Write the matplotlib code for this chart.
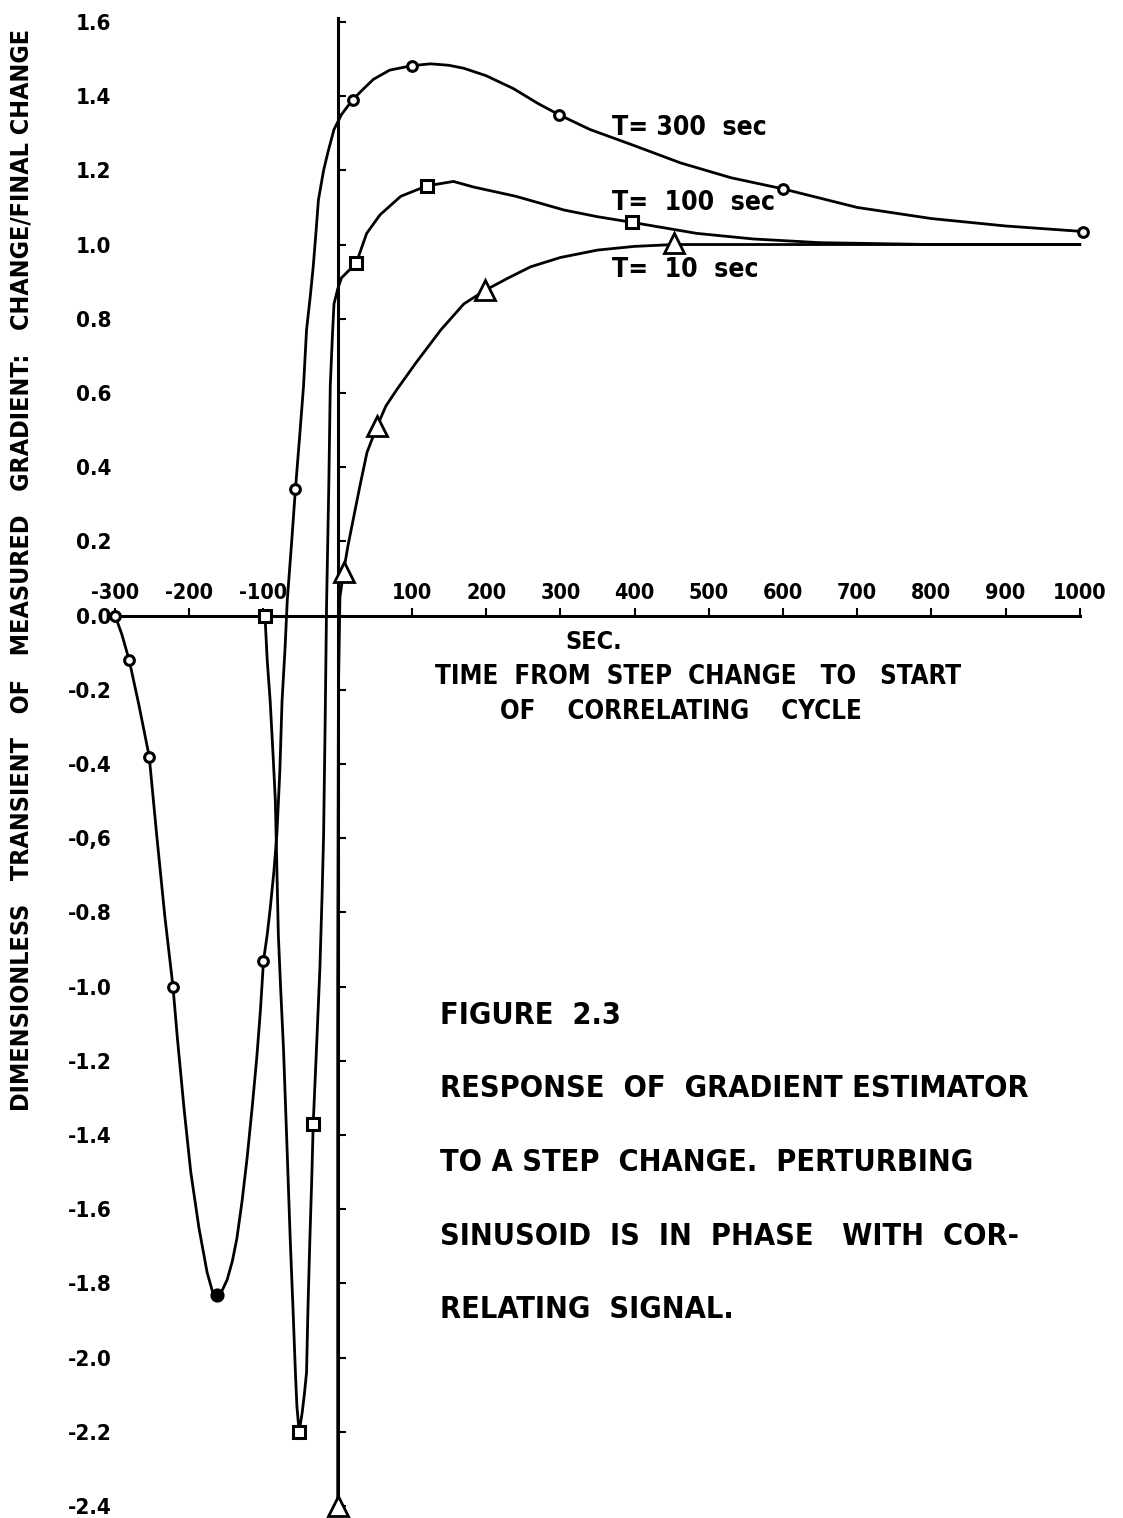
import matplotlib
matplotlib.use("Agg")
import matplotlib.pyplot as plt
from matplotlib.ticker import FixedLocator, FixedFormatter

plt.rcParams['font.family'] = ['DejaVu Sans']
plt.rcParams['font.stretch'] = 'condensed'
plt.rcParams['font.weight'] = 'bold'
plt.rcParams['axes.unicode_minus'] = False

# T = 300 sec: traced curve and plotted points (circles)
t300_curve_x = [-300, -291, -281, -268, -254, -244, -233, -222, -216, -207, -198, -187, -176, -169, -163,
                -156, -149, -142, -136, -129, -122, -115, -109, -104, -100, -95, -91, -86, -82, -78,
                -75, -71, -68, -62, -57, -51, -46, -42, -37, -33, -29, -26, -19, -13, -5, 5, 20, 35,
                48, 70, 100, 125, 150, 170, 200, 237, 270, 298, 340, 395, 462, 530, 600, 650, 700,
                800, 900, 1005]
t300_curve_y = [0.0, -0.05, -0.12, -0.24, -0.38, -0.59, -0.81, -1.0, -1.14, -1.33, -1.50, -1.65, -1.77, -1.82,
                -1.835, -1.82, -1.79, -1.74, -1.68, -1.58, -1.46, -1.32, -1.19, -1.06, -0.93, -0.86, -0.79,
                -0.69, -0.59, -0.42, -0.23, -0.09, 0.04, 0.20, 0.34, 0.49, 0.62, 0.77, 0.86, 0.94, 1.04,
                1.12, 1.20, 1.25, 1.31, 1.35, 1.39, 1.42, 1.445, 1.47, 1.482, 1.487, 1.483, 1.475, 1.455,
                1.42, 1.38, 1.35, 1.31, 1.27, 1.22, 1.18, 1.15, 1.125, 1.10, 1.07, 1.05, 1.035]
t300_pts_x = [-300, -281, -254, -222, -100, -57, 20, 100, 298, 600, 1005]
t300_pts_y = [0.0, -0.12, -0.38, -1.0, -0.93, 0.34, 1.39, 1.48, 1.35, 1.15, 1.035]
# the lowest point is drawn filled in the original
t300_min_x = [-163]
t300_min_y = [-1.83]

# T = 100 sec (squares)
t100_curve_x = [-98, -95, -91, -87, -84, -82, -80, -77, -73, -68, -64, -60, -57, -55, -52, -48, -45, -42,
                -40, -37.5, -35, -33, -28, -24, -21, -19, -17, -15, -12, -10, -7, -5, 0, 5, 15, 25, 39,
                57, 85, 120, 156, 183, 240, 305, 350, 396, 440, 484, 560, 650, 800, 1000]
t100_curve_y = [0.0, -0.12, -0.23, -0.38, -0.50, -0.68, -0.86, -1.0, -1.17, -1.45, -1.68, -1.88, -2.04,
                -2.13, -2.2, -2.15, -2.1, -2.04, -1.86, -1.68, -1.52, -1.37, -1.14, -0.95, -0.75, -0.59,
                -0.3, 0.03, 0.35, 0.62, 0.76, 0.84, 0.88, 0.91, 0.93, 0.95, 1.03, 1.08, 1.13, 1.158, 1.17,
                1.155, 1.13, 1.093, 1.075, 1.06, 1.045, 1.03, 1.015, 1.005, 1.0, 1.0]
t100_pts_x = [-98, -52, -33, 25, 120, 396]
t100_pts_y = [0.0, -2.2, -1.37, 0.95, 1.158, 1.06]

# T = 10 sec (triangles)
t10_curve_x = [0, 0, 1, 3, 8, 14, 21, 30, 39.5, 53, 65, 80, 105, 139, 170, 199, 230, 260, 300, 350, 400,
               453, 600, 800, 1000]
t10_curve_y = [-2.4, -1.0, -0.2, 0.05, 0.12, 0.19, 0.26, 0.35, 0.44, 0.51, 0.565, 0.61, 0.68, 0.77, 0.84,
               0.877, 0.91, 0.94, 0.965, 0.985, 0.995, 1.0, 1.0, 1.0, 1.0]
t10_pts_x = [0, 8, 53, 199, 453]
t10_pts_y = [-2.4, 0.118, 0.51, 0.877, 1.004]

x_ticks = [-300, -200, -100, 100, 200, 300, 400, 500, 600, 700, 800, 900, 1000]
x_tick_labels = ["-300", "-200", "-100", "100", "200", "300", "400", "500", "600", "700", "800", "900", "1000"]
y_ticks = [1.6, 1.4, 1.2, 1.0, 0.8, 0.6, 0.4, 0.2, 0.0, -0.2, -0.4, -0.6, -0.8, -1.0, -1.2, -1.4,
           -1.6, -1.8, -2.0, -2.2, -2.4]
y_tick_labels = ["1.6", "1.4", "1.2", "1.0", "0.8", "0.6", "0.4", "0.2", "0.0", "-0.2", "-0.4", "-0,6",
                 "-0.8", "-1.0", "-1.2", "-1.4", "-1.6", "-1.8", "-2.0", "-2.2", "-2.4"]

fig = plt.figure(figsize=(11.23, 15.18), dpi=100)
ax = fig.add_axes([0, 0, 1, 1])
ax.set_xlim(-455.1, 1058.3)
ax.set_ylim(-2.432, 1.659)

lw = 2.0
ax.plot(t300_curve_x, t300_curve_y, color='black', lw=lw)
ax.plot(t100_curve_x, t100_curve_y, color='black', lw=lw)
ax.plot(t10_curve_x, t10_curve_y, color='black', lw=lw)
ax.plot(t300_pts_x, t300_pts_y, 'o', ms=7, mfc='white', mec='black', mew=2.2, zorder=5)
ax.plot(t300_min_x, t300_min_y, 'o', ms=8, mfc='black', mec='black', mew=2.2, zorder=5)
ax.plot(t100_pts_x, t100_pts_y, 's', ms=8, mfc='white', mec='black', mew=2.2, zorder=5)
ax.plot(t10_pts_x, t10_pts_y, '^', ms=15, mfc='white', mec='black', mew=2, zorder=5)

# axes crossing at the origin
for s in ['right', 'bottom']:
    ax.spines[s].set_visible(False)
ax.spines['left'].set_position(('data', 0))
ax.spines['left'].set_bounds(-2.41, 1.61)
ax.spines['top'].set_position(('data', 0))
ax.spines['top'].set_bounds(-300, 1000)
for s in ['left', 'top']:
    ax.spines[s].set_linewidth(2.2)
    ax.spines[s].set_zorder(4)

ax.xaxis.set_ticks_position('top')
ax.xaxis.set_major_locator(FixedLocator(x_ticks))
ax.xaxis.set_major_formatter(FixedFormatter(x_tick_labels))
ax.tick_params(axis='x', direction='out', length=6, width=1.5, pad=3, labelsize=15.5)

ax.yaxis.set_ticks_position('left')
ax.yaxis.set_major_locator(FixedLocator(y_ticks))
ax.yaxis.set_major_formatter(FixedFormatter(y_tick_labels))
ax.tick_params(axis='y', direction='in', length=6, width=1.5, pad=163, labelsize=16)

ax.patch.set_alpha(0)

fig.text(22 / 1123, 1 - 570 / 1518,
         "DIMENSIONLESS   TRANSIENT   OF   MEASURED   GRADIENT:   CHANGE/FINAL CHANGE",
         rotation=90, ha='center', va='center', fontsize=18)

# x axis title (data coordinates)
ax.text(345, -0.071, "SEC.", ha='center', va='center', fontsize=18)
ax.text(486, -0.165, "TIME  FROM  STEP  CHANGE   TO   START", ha='center', va='center', fontsize=18.5)
ax.text(463, -0.259, "OF    CORRELATING    CYCLE", ha='center', va='center', fontsize=18.5)

ax.text(370, 1.314, "T= 300  sec", ha='left', va='center', fontsize=19)
ax.text(370, 1.112, "T=  100  sec", ha='left', va='center', fontsize=19)
ax.text(370, 0.932, "T=  10  sec", ha='left', va='center', fontsize=19)

caption = ["FIGURE  2.3",
           "RESPONSE  OF  GRADIENT ESTIMATOR",
           "TO A STEP  CHANGE.  PERTURBING",
           "SINUSOID  IS  IN  PHASE   WITH  COR-",
           "RELATING  SIGNAL."]
for i, line in enumerate(caption):
    ax.text(138, -1.077 - i * 0.1985, line, ha='left', va='center', fontsize=22)

fig.savefig("out.png", dpi=100)
